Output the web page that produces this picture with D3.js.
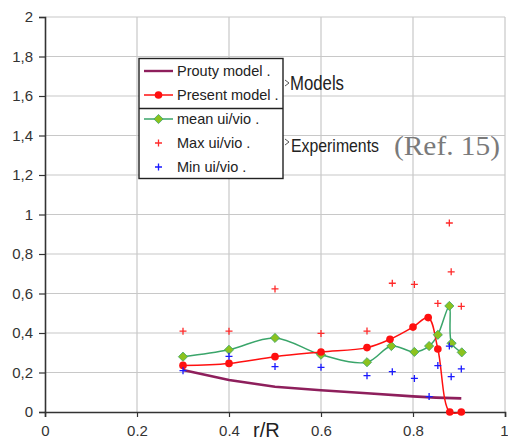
<!DOCTYPE html>
<html><head><meta charset="utf-8">
<script src="https://cdn.jsdelivr.net/npm/d3@7"></script>
<style>body{margin:0;background:#fff}svg{display:block}</style>
</head><body>
<svg id="c" width="508" height="440"></svg>
<script>
// ---- data ----
const xTicks = [0, 0.2, 0.4, 0.6, 0.8, 1];
const yTicks = [0, 0.2, 0.4, 0.6, 0.8, 1, 1.2, 1.4, 1.6, 1.8, 2];

const proutyX = [0.3, 0.4, 0.5, 0.6, 0.7, 0.8, 0.85, 0.905];
const proutyY = [0.213, 0.162, 0.128, 0.11, 0.095, 0.079, 0.073, 0.069];

const presentX = [0.3, 0.4, 0.5, 0.6, 0.7, 0.75, 0.8, 0.833, 0.854, 0.88, 0.905];
const presentY = [0.236, 0.246, 0.28, 0.304, 0.326, 0.368, 0.43, 0.478, 0.319, 0.0, 0.0];

const meanX = [0.3, 0.4, 0.5, 0.6, 0.7, 0.753, 0.803, 0.835, 0.854, 0.879, 0.884, 0.906];
const meanY = [0.28, 0.315, 0.375, 0.29, 0.252, 0.334, 0.304, 0.334, 0.391, 0.537, 0.348, 0.302];

const maxX = [0.3, 0.4, 0.5, 0.6, 0.7, 0.755, 0.803, 0.854, 0.879, 0.883, 0.905];
const maxY = [0.409, 0.409, 0.623, 0.398, 0.41, 0.652, 0.646, 0.55, 0.957, 0.71, 0.535];

const minX = [0.3, 0.4, 0.5, 0.6, 0.7, 0.755, 0.803, 0.835, 0.854, 0.879, 0.883, 0.905];
const minY = [0.209, 0.282, 0.23, 0.226, 0.184, 0.204, 0.17, 0.078, 0.235, 0.334, 0.179, 0.218];

const legendLabels = ["Prouty model .", "Present model .", "mean ui/vio .", "Max ui/vio .", "Min ui/vio ."];

// ---- chart ----
const svg = d3.select("#c");
const x = d3.scaleLinear().domain([0, 1]).range([45, 505]);
const y = d3.scaleLinear().domain([0, 2]).range([412, 17]);
const font = "Arial, 'Liberation Sans', Helvetica, sans-serif";

const col = {prouty: "#8e1f5c", present: "#ff1010", meanLine: "#3aa56a", meanFill: "#8cc21e", max: "#ff2a2a", min: "#1a1aff"};

// grid
svg.append("g").selectAll("line").data(yTicks.filter(d => d > 0)).join("line")
  .attr("x1", x(0)).attr("x2", x(1)).attr("y1", d => y(d)).attr("y2", d => y(d))
  .attr("stroke", "#c8c8c8").attr("stroke-width", 1.2);
svg.append("g").selectAll("line").data(xTicks.filter(d => d > 0)).join("line")
  .attr("x1", d => x(d)).attr("x2", d => x(d)).attr("y1", y(0)).attr("y2", y(2))
  .attr("stroke", "#c8c8c8").attr("stroke-width", 1.2);

// axes
const yAxis = d3.axisLeft(y).tickValues(yTicks).tickSize(6).tickPadding(6)
  .tickFormat(d => String(d).replace(".", ","));
const gy = svg.append("g").attr("transform", `translate(${x(0)},0)`).call(yAxis);
const xAxis = d3.axisBottom(x).tickValues(xTicks).tickSize(5).tickPadding(8)
  .tickFormat(d => String(d));
const gx = svg.append("g").attr("transform", `translate(0,${y(0)})`).call(xAxis);
[gy, gx].forEach(g => {
  g.select(".domain").attr("stroke", "#333").attr("stroke-width", 1.6);
  g.selectAll(".tick line").attr("stroke", "#333").attr("stroke-width", 1.2);
  g.selectAll("text").attr("font-family", font).attr("font-size", 15).attr("fill", "#333");
});
gx.selectAll(".tick text").filter(d => d === 1).attr("text-anchor", "end").attr("dx", 3);

svg.append("text").attr("x", 253).attr("y", 437).attr("font-family", font)
  .attr("font-size", 20).attr("fill", "#222").text("r/R");

// series
const line = (xs, ys, curve) => d3.line().x((d, i) => x(xs[i])).y(d => y(d)).curve(curve)(ys);

svg.append("path").attr("d", line(proutyX, proutyY, d3.curveLinear))
  .attr("fill", "none").attr("stroke", col.prouty).attr("stroke-width", 2.6);

svg.append("path").attr("d", line(meanX, meanY, d3.curveCatmullRom.alpha(0.5)))
  .attr("fill", "none").attr("stroke", col.meanLine).attr("stroke-width", 1.5);

svg.append("path").attr("d", line(presentX, presentY, d3.curveCatmullRom.alpha(0.5)))
  .attr("fill", "none").attr("stroke", col.present).attr("stroke-width", 1.5);

const diamond = "M0,-4.6L4.6,0L0,4.6L-4.6,0Z";
const circ = d3.symbol().type(d3.symbolCircle).size(46);

svg.append("g").selectAll("path").data(meanY).join("path")
  .attr("transform", (d, i) => `translate(${x(meanX[i])},${y(d)})`)
  .attr("d", diamond).attr("fill", col.meanFill).attr("stroke", col.meanLine).attr("stroke-width", 0.8);

svg.append("g").selectAll("path").data(presentY).join("path")
  .attr("transform", (d, i) => `translate(${x(presentX[i])},${y(d)})`)
  .attr("d", circ).attr("fill", col.present);

const plus = "M-3.5,0H3.5M0,-3.5V3.5";
svg.append("g").selectAll("path").data(maxY).join("path")
  .attr("transform", (d, i) => `translate(${x(maxX[i])},${y(d)})`)
  .attr("d", plus).attr("stroke", col.max).attr("stroke-width", 1.3).attr("fill", "none");
svg.append("g").selectAll("path").data(minY).join("path")
  .attr("transform", (d, i) => `translate(${x(minX[i])},${y(d)})`)
  .attr("d", plus).attr("stroke", col.min).attr("stroke-width", 1.3).attr("fill", "none");

// legend
const lg = svg.append("g");
lg.append("rect").attr("x", 139).attr("y", 58.5).attr("width", 144).attr("height", 120)
  .attr("fill", "#fff").attr("stroke", "#222").attr("stroke-width", 1.4);
lg.append("line").attr("x1", 139).attr("x2", 283).attr("y1", 108.5).attr("y2", 108.5)
  .attr("stroke", "#222").attr("stroke-width", 1.4);
const ly = [71, 95, 119, 143, 167];
legendLabels.forEach((t, i) => {
  lg.append("text").attr("x", 177).attr("y", ly[i] + 5).attr("font-family", font)
    .attr("font-size", 14.5).attr("fill", "#222").text(t);
});
lg.append("line").attr("x1", 144).attr("x2", 173).attr("y1", ly[0]).attr("y2", ly[0]).attr("stroke", col.prouty).attr("stroke-width", 2.4);
lg.append("line").attr("x1", 144).attr("x2", 173).attr("y1", ly[1]).attr("y2", ly[1]).attr("stroke", col.present).attr("stroke-width", 1.5);
lg.append("path").attr("transform", `translate(158.5,${ly[1]})`).attr("d", circ).attr("fill", col.present);
lg.append("line").attr("x1", 144).attr("x2", 173).attr("y1", ly[2]).attr("y2", ly[2]).attr("stroke", col.meanLine).attr("stroke-width", 1.5);
lg.append("path").attr("transform", `translate(158.5,${ly[2]})`).attr("d", diamond).attr("fill", col.meanFill).attr("stroke", col.meanLine).attr("stroke-width", 0.8);
lg.append("path").attr("transform", `translate(158.5,${ly[3]})`).attr("d", plus).attr("stroke", col.max).attr("stroke-width", 1.3);
lg.append("path").attr("transform", `translate(158.5,${ly[4]})`).attr("d", plus).attr("stroke", col.min).attr("stroke-width", 1.3);

// annotations
[83, 142].forEach(yy => {
  svg.append("path").attr("d", `M285,${yy - 3}L289,${yy}L285,${yy + 3}`)
    .attr("fill", "none").attr("stroke", "#555").attr("stroke-width", 1);
});
svg.append("text").attr("x", 290).attr("y", 90).attr("font-family", font).attr("font-size", 20)
  .attr("fill", "#222").attr("textLength", 54).attr("lengthAdjust", "spacingAndGlyphs").text("Models");
svg.append("text").attr("x", 291).attr("y", 152).attr("font-family", font).attr("font-size", 19)
  .attr("fill", "#222").attr("textLength", 88).attr("lengthAdjust", "spacingAndGlyphs").text("Experiments");
svg.append("text").attr("x", 394).attr("y", 155).attr("font-family", "'Times New Roman', 'Liberation Serif', serif")
  .attr("font-size", 28).attr("fill", "#7a7a7a").attr("textLength", 106).attr("lengthAdjust", "spacingAndGlyphs").text("(Ref. 15)");
</script>
</body></html>
